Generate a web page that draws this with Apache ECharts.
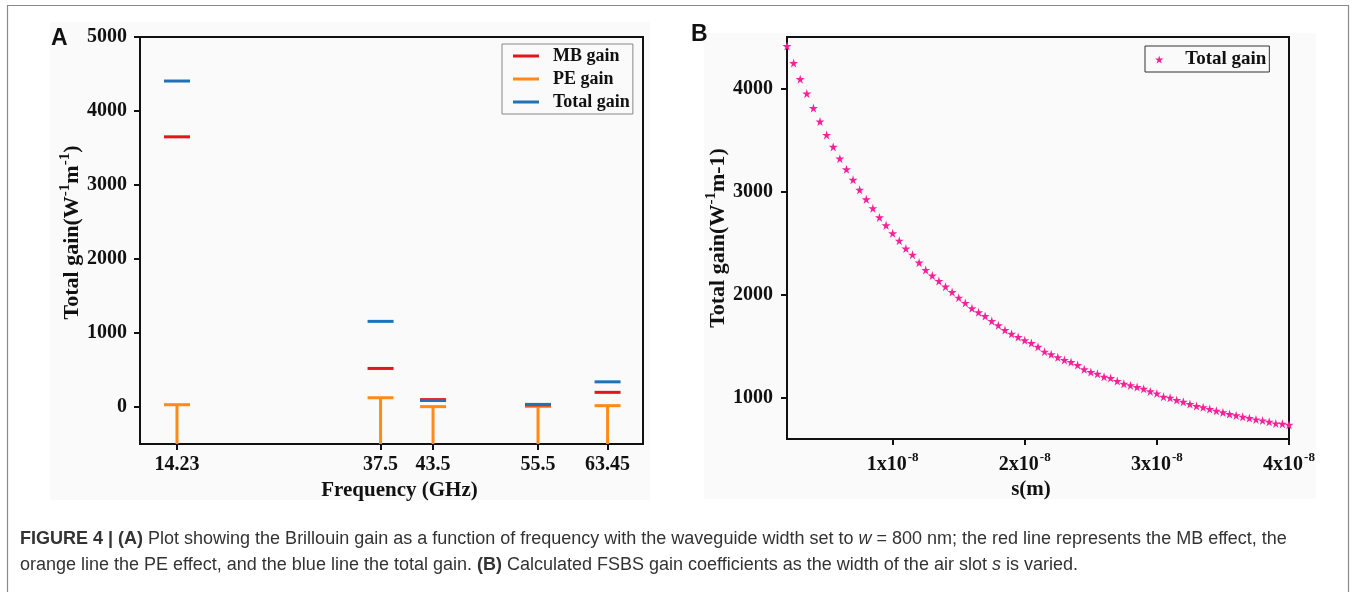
<!DOCTYPE html>
<html>
<head>
<meta charset="utf-8">
<script src="https://cdn.jsdelivr.net/npm/echarts@6/dist/echarts.min.js"></script>
<style>
html,body{margin:0;padding:0;background:#fff;}
#chart{width:1356px;height:592px;}
</style>
</head>
<body>
<div id="chart"></div>
<script>
// ---------- Panel A data ----------
const freqA = [14.23, 37.5, 43.5, 55.5, 63.45];
const mbGainA = [3651, 521, 100, 28, 198];
const peGainA = [31, 125, 5, 8, 18];
const totalGainA = [4405, 1157, 88, 35, 340];
const xTickLabelsA = ['14.23', '37.5', '43.5', '55.5', '63.45'];
const yTicksA = [0, 1000, 2000, 3000, 4000, 5000];

// ---------- Panel B data (s in nm) ----------
const sNmB = [2, 2.5, 3, 3.5, 4, 4.5, 5, 5.5, 6, 6.5, 7, 7.5, 8, 8.5, 9, 9.5, 10, 10.5, 11, 11.5,
  12, 12.5, 13, 13.5, 14, 14.5, 15, 15.5, 16, 16.5, 17, 17.5, 18, 18.5, 19, 19.5, 20, 20.5, 21, 21.5,
  22, 22.5, 23, 23.5, 24, 24.5, 25, 25.5, 26, 26.5, 27, 27.5, 28, 28.5, 29, 29.5, 30, 30.5, 31, 31.5,
  32, 32.5, 33, 33.5, 34, 34.5, 35, 35.5, 36, 36.5, 37, 37.5, 38, 38.5, 39, 39.5, 40];
const totalGainB = [4412, 4247, 4091, 3951, 3810, 3680, 3550, 3434, 3320, 3217, 3114, 3017, 2926, 2839, 2750, 2673, 2596, 2524, 2447, 2388,
  2311, 2240, 2185, 2133, 2078, 2026, 1971, 1920, 1868, 1829, 1793, 1745, 1703, 1657, 1621, 1589, 1557, 1531, 1495, 1447,
  1421, 1392, 1366, 1347, 1317, 1276, 1250, 1233, 1204, 1191, 1162, 1136, 1120, 1104, 1087, 1062, 1042, 1010, 1000, 978,
  961, 939, 919, 907, 890, 874, 858, 842, 829, 816, 803, 790, 780, 767, 751, 748, 738];
const xTicksB = [10, 20, 30, 40];
const xTickMantissaB = ['1x10', '2x10', '3x10', '4x10'];
const xTickExponentB = '-8';
const yTicksB = [1000, 2000, 3000, 4000];

// ---------- styling ----------
const RED = '#e3161d', ORANGE = '#ff8a17', BLUE = '#1f72b8', PINK = '#f7209b';
const SERIF = "'Liberation Serif', 'Times New Roman', serif";
const SANS = "'Liberation Sans', Arial, sans-serif";
const AXCOL = '#111';
const STAR = 'path://M50,0 L61,35 L98,35 L68,57 L79,91 L50,70 L21,91 L32,57 L2,35 L39,35 Z';
const yMinA = -500;
const CAP = 18;

const axisCommon = {
  axisLine: { show: true, onZero: false, lineStyle: { color: AXCOL, width: 2 } },
  splitLine: { show: false },
  axisLabel: { fontFamily: SERIF, fontWeight: 'bold', fontSize: 20, color: '#111' },
  axisTick: { show: true, inside: false, length: 6, lineStyle: { color: AXCOL, width: 2 } },
  nameTextStyle: { fontFamily: SERIF, fontWeight: 'bold', fontSize: 21, color: '#111' }
};
function merge(a, b) { return echarts.util.merge(echarts.util.clone(a), b, true); }
function plain(v) { return String(v); }

const chart = echarts.init(document.getElementById('chart'), null, { renderer: 'canvas' });

const capRich = {
  b: { fontWeight: 'bold', fontFamily: SANS, fontSize: CAP, fill: '#333' },
  i: { fontStyle: 'italic', fontFamily: SANS, fontSize: CAP, fill: '#333' }
};
const yNameRich = {
  a: { fontFamily: SERIF, fontWeight: 'bold', fontSize: 22, color: '#111' },
  s: { fontFamily: SERIF, fontWeight: 'bold', fontSize: 15, color: '#111', padding: [0, 0, 14, 0] }
};

const option = {
  animation: false,
  backgroundColor: '#fff',
  graphic: [
    { type: 'rect', z: -10, shape: { x: 7.5, y: 5.5, width: 1341, height: 620 }, style: { fill: '#fff', stroke: '#8a8a8a', lineWidth: 1.2 } },
    { type: 'rect', z: -9, shape: { x: 50, y: 22, width: 600, height: 478 }, style: { fill: '#fafafa' } },
    { type: 'rect', z: -9, shape: { x: 704, y: 33, width: 612, height: 466 }, style: { fill: '#fafafa' } },
    { type: 'text', left: 51, top: 27, style: { text: 'A', font: 'bold 23px ' + SANS, fill: '#111' } },
    { type: 'text', left: 691, top: 23, style: { text: 'B', font: 'bold 23px ' + SANS, fill: '#111' } },
    { type: 'text', left: 20, top: 530, style: {
        text: '{b|FIGURE 4 | (A)} Plot showing the Brillouin gain as a function of frequency with the waveguide width set to {i|w} = 800 nm; the red line represents the MB effect, the',
        font: CAP + 'px ' + SANS, fill: '#333', rich: capRich } },
    { type: 'text', left: 20, top: 556, style: {
        text: 'orange line the PE effect, and the blue line the total gain. {b|(B)} Calculated FSBS gain coefficients as the width of the air slot {i|s} is varied.',
        font: CAP + 'px ' + SANS, fill: '#333', rich: capRich } }
  ],
  grid: [
    { left: 140, top: 37, width: 503, height: 407, show: true, borderColor: AXCOL, borderWidth: 2, backgroundColor: 'transparent' },
    { left: 787, top: 37, width: 502, height: 402, show: true, borderColor: AXCOL, borderWidth: 2, backgroundColor: 'transparent' }
  ],
  legend: [
    {
      orient: 'vertical', left: 502, top: 44,
      padding: [3, 3, 3, 11], itemGap: 5, itemWidth: 26, itemHeight: 3,
      borderColor: '#888', borderWidth: 1, backgroundColor: '#fafafa',
      textStyle: { fontFamily: SERIF, fontWeight: 'bold', fontSize: 18, color: '#111', padding: [0, 0, 0, 9] },
      data: [
        { name: 'MB gain', icon: 'rect', itemStyle: { color: RED } },
        { name: 'PE gain', icon: 'rect', itemStyle: { color: ORANGE } },
        { name: 'Total gain', icon: 'rect', itemStyle: { color: BLUE } }
      ]
    },
    {
      orient: 'vertical', left: 1145, top: 46,
      padding: [4, 3, 3, 10], itemWidth: 26, itemHeight: 8,
      borderColor: '#333', borderWidth: 1, backgroundColor: '#fafafa',
      textStyle: { fontFamily: SERIF, fontWeight: 'bold', fontSize: 19, color: '#111', padding: [0, 0, 0, 8] },
      data: [{ name: 'Total gain', icon: STAR, itemStyle: { color: PINK } }]
    }
  ],
  xAxis: [
    merge(axisCommon, {
      type: 'value', gridIndex: 0, min: 10, max: 67.5,
      name: 'Frequency (GHz)', nameLocation: 'middle', nameGap: 34,
      nameTextStyle: { padding: [0, 0, 0, 16] },
      axisTick: { customValues: freqA },
      axisLabel: { customValues: freqA, margin: 11,
        formatter: function (v) { const i = freqA.indexOf(v); return i >= 0 ? xTickLabelsA[i] : ''; } }
    }),
    merge(axisCommon, {
      type: 'value', gridIndex: 1, min: 2, max: 40,
      name: 's(m)', nameLocation: 'middle', nameGap: 37,
      nameTextStyle: { padding: [0, 14, 0, 0] },
      axisTick: { customValues: xTicksB },
      axisLabel: { customValues: xTicksB, margin: 12,
        formatter: function (v) { const i = xTicksB.indexOf(v); return i >= 0 ? '{m|' + xTickMantissaB[i] + '}{e|' + xTickExponentB + '}' : ''; },
        rich: {
          m: { fontFamily: SERIF, fontWeight: 'bold', fontSize: 20, color: '#111' },
          e: { fontFamily: SERIF, fontWeight: 'bold', fontSize: 13, color: '#111', padding: [0, 0, 14, 1] }
        } }
    })
  ],
  yAxis: [
    merge(axisCommon, {
      type: 'value', gridIndex: 0, min: yMinA, max: 5000,
      name: '{a|Total gain(W}{s|-1}{a|m}{s|-1}{a|)}', nameLocation: 'middle', nameGap: 53,
      nameTextStyle: { padding: [0, 0, 0, 16], rich: yNameRich },
      axisTick: { customValues: yTicksA },
      axisLabel: { customValues: yTicksA, margin: 13, formatter: plain }
    }),
    merge(axisCommon, {
      type: 'value', gridIndex: 1, min: 600, max: 4500,
      name: '{a|Total gain(W}{s|-1}{a|m-1)}', nameLocation: 'middle', nameGap: 54,
      nameTextStyle: { rich: yNameRich },
      axisTick: { customValues: yTicksB },
      axisLabel: { customValues: yTicksB, margin: 14, formatter: plain }
    })
  ],
  series: [
    {
      name: 'PE gain', type: 'custom', xAxisIndex: 0, yAxisIndex: 0,
      itemStyle: { color: ORANGE },
      data: freqA.map((f, i) => [f, peGainA[i]]),
      renderItem: function (params, api) {
        const top = api.coord([api.value(0), api.value(1)]);
        const bot = api.coord([api.value(0), yMinA]);
        return { type: 'group', children: [
          { type: 'line', shape: { x1: top[0], y1: top[1], x2: bot[0], y2: bot[1] }, style: { stroke: ORANGE, lineWidth: 3 } },
          { type: 'line', shape: { x1: top[0] - 13, y1: top[1], x2: top[0] + 13, y2: top[1] }, style: { stroke: ORANGE, lineWidth: 3 } }
        ] };
      }
    },
    {
      name: 'MB gain', type: 'scatter', xAxisIndex: 0, yAxisIndex: 0,
      symbol: 'rect', symbolSize: [26, 3], itemStyle: { color: RED, opacity: 1 },
      data: freqA.map((f, i) => [f, mbGainA[i]])
    },
    {
      name: 'Total gain', type: 'scatter', xAxisIndex: 0, yAxisIndex: 0,
      symbol: 'rect', symbolSize: [26, 3], itemStyle: { color: BLUE, opacity: 1 },
      data: freqA.map((f, i) => [f, totalGainA[i]])
    },
    {
      name: 'Total gain', type: 'scatter', xAxisIndex: 1, yAxisIndex: 1,
      symbol: STAR, symbolSize: 9, itemStyle: { color: PINK, opacity: 1 },
      data: sNmB.map((s, i) => [s, totalGainB[i]])
    }
  ]
};
chart.setOption(option);
</script>
</body>
</html>
